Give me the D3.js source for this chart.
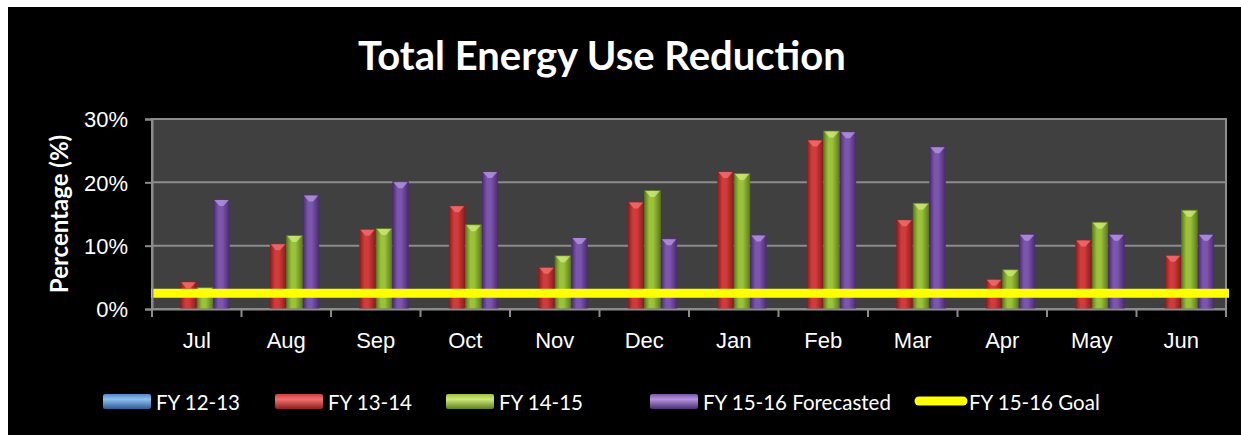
<!DOCTYPE html>
<html>
<head>
<meta charset="utf-8">
<script src="https://cdn.jsdelivr.net/npm/d3@7"></script>
<style>
  body { margin:0; background:#fff; }
  svg { display:block; font-family: Lato, "Open Sans", sans-serif; }
  .axis path, .axis line { stroke:#8c8c8c; }
  .axis text { fill:#fff; }
</style>
</head>
<body>
<div id="chart"></div>
<script>
// data (percent)
var months = ["Jul","Aug","Sep","Oct","Nov","Dec","Jan","Feb","Mar","Apr","May","Jun"];
var seriesNames = ["FY 12-13","FY 13-14","FY 14-15","FY 15-16 Forecasted"];
var fy1213 = [0,0,0,0,0,0,0,0,0,0,0,0];
var fy1314 = [4.3,10.3,12.6,16.3,6.6,16.9,21.7,26.7,14.1,4.7,10.9,8.5];
var fy1415 = [3.4,11.6,12.7,13.3,8.4,18.7,21.4,28.1,16.7,6.2,13.7,15.6];
var fy1516 = [17.3,18.0,20.1,21.7,11.3,11.1,11.7,28.0,25.6,11.8,11.8,11.8];
var goalName = "FY 15-16 Goal";
var goal = [2.5,2.5,2.5,2.5,2.5,2.5,2.5,2.5,2.5,2.5,2.5,2.5];
var yTicks = [0,10,20,30];

var colors = [
  {base:"#4f86c6", light:"#8fc0f0", dark:"#2c5a94"},
  {base:"#d03b3b", light:"#f07070", dark:"#8e1e1e"},
  {base:"#9bc23a", light:"#cde87a", dark:"#5f7f1c"},
  {base:"#7c55ad", light:"#b395dc", dark:"#4b2d72"}
];
var goalColor = "#ffff00";

var outerWidth = 1241, outerHeight = 435;
var margin = {top:119, right:15, bottom:126, left:152},
    width = 1226 - margin.left,
    height = 309 - margin.top;

var svg = d3.select("#chart").append("svg")
    .attr("width", outerWidth)
    .attr("height", outerHeight);

// white border at top/left, black panel
svg.append("rect").attr("x", 8).attr("y", 7)
    .attr("width", outerWidth - 8).attr("height", outerHeight - 7)
    .attr("fill", "#000");

var defs = svg.append("defs");
colors.forEach(function(c, i) {
  var g = defs.append("linearGradient").attr("id", "bar" + i)
      .attr("x1", 0).attr("x2", 1).attr("y1", 0).attr("y2", 0);
  g.append("stop").attr("offset", "0%").attr("stop-color", c.dark);
  g.append("stop").attr("offset", "30%").attr("stop-color", c.base);
  g.append("stop").attr("offset", "55%").attr("stop-color", c.base);
  g.append("stop").attr("offset", "100%").attr("stop-color", c.dark);
  var lg = defs.append("linearGradient").attr("id", "leg" + i)
      .attr("x1", 0).attr("x2", 0).attr("y1", 0).attr("y2", 1);
  lg.append("stop").attr("offset", "0%").attr("stop-color", c.base);
  lg.append("stop").attr("offset", "35%").attr("stop-color", c.light);
  lg.append("stop").attr("offset", "100%").attr("stop-color", c.dark);
});

svg.append("text")
    .attr("x", 602).attr("y", 70)
    .attr("text-anchor", "middle")
    .attr("fill", "#fff")
    .style("font-size", "40px")
    .style("font-weight", "bold")
    .text("Total Energy Use Reduction");

var g = svg.append("g")
    .attr("transform", "translate(" + margin.left + "," + margin.top + ")");

var x0 = d3.scaleBand().domain(months).range([0, width]).paddingInner(0).paddingOuter(0);
var x1 = d3.scaleBand().domain(d3.range(4)).range([0, x0.bandwidth()]).paddingOuter(0.71).paddingInner(0);
var y = d3.scaleLinear().domain([0, 30]).range([height, 0]);

g.append("rect").attr("width", width).attr("height", height)
    .attr("fill", "#404040").attr("stroke", "#8c8c8c").attr("stroke-width", 2);

g.selectAll(".grid").data(yTicks.slice(1)).enter().append("line")
    .attr("x1", 0).attr("x2", width)
    .attr("y1", function(d) { return y(d); }).attr("y2", function(d) { return y(d); })
    .attr("stroke", "#8c8c8c").attr("stroke-width", 2);

var table = months.map(function(m, i) {
  return {month:m, values:[fy1213[i], fy1314[i], fy1415[i], fy1516[i]]};
});

var groups = g.selectAll(".month").data(table).enter().append("g")
    .attr("transform", function(d) { return "translate(" + x0(d.month) + ",0)"; });

var bars = groups.selectAll(".bar")
    .data(function(d) { return d.values.map(function(v, k) { return {k:k, v:v}; }); })
    .enter().filter(function(d) { return d.v > 0; });

bars.append("rect")
    .attr("x", function(d) { return x1(d.k) + 0.5; })
    .attr("y", function(d) { return y(d.v); })
    .attr("width", x1.bandwidth() - 1)
    .attr("height", function(d) { return height - y(d.v); })
    .attr("fill", function(d) { return "url(#bar" + d.k + ")"; })
    .attr("stroke", function(d) { return colors[d.k].dark; })
    .attr("stroke-width", 0.8);

// bevel highlight on top of each bar
bars.append("path")
    .attr("d", function(d) {
      var l = x1(d.k) + 1, r = x1(d.k) + x1.bandwidth() - 1, t = y(d.v) + 0.5;
      var m = (l + r) / 2;
      return "M" + l + "," + t + "L" + r + "," + t + "L" + (m + 2) + "," + (t + 6) + "L" + (m - 2) + "," + (t + 6) + "Z";
    })
    .attr("fill", function(d) { return colors[d.k].light; })
    .attr("opacity", 0.8);

// goal line, spans the plot width
var goalLine = d3.line()
    .x(function(d, i) { return i === 0 ? -1 : (i === goal.length - 1 ? width + 3 : x0(months[i]) + x0.bandwidth() / 2); })
    .y(function(d) { return y(d); });
g.append("path").datum(goal)
    .attr("d", goalLine)
    .attr("fill", "none")
    .attr("stroke", goalColor)
    .attr("stroke-width", 9);

var yAxis = d3.axisLeft(y).tickValues(yTicks).tickSize(7).tickPadding(17)
    .tickFormat(function(d) { return d + "%"; });
var gY = g.append("g").attr("class", "axis").call(yAxis);
gY.selectAll("line, path").attr("stroke-width", 2);
gY.selectAll("text").style("font-size", "22px").attr("dy", "0.36em");

var xAxis = d3.axisBottom(x0).tickSize(0).tickPadding(23);
var gX = g.append("g").attr("class", "axis")
    .attr("transform", "translate(0," + height + ")").call(xAxis);
gX.select(".domain").attr("stroke-width", 2);
gX.selectAll("text").style("font-size", "22px");
// tick marks at category boundaries
gX.selectAll(".bound").data(months.concat(["end"])).enter().append("line")
    .attr("x1", function(d, i) { return i * x0.step(); })
    .attr("x2", function(d, i) { return i * x0.step(); })
    .attr("y1", 0).attr("y2", 8)
    .attr("stroke", "#8c8c8c").attr("stroke-width", 2);

svg.append("text")
    .attr("transform", "translate(68,214) rotate(-90)")
    .attr("text-anchor", "middle")
    .attr("fill", "#fff")
    .style("font-size", "24px")
    .style("font-weight", "bold")
    .text("Percentage (%)");

// legend
var legX = [103, 275, 446, 650];
seriesNames.forEach(function(name, i) {
  var lg = svg.append("g").attr("transform", "translate(" + legX[i] + ",394)");
  lg.append("rect").attr("width", 48).attr("height", 15).attr("rx", 2)
      .attr("fill", "url(#leg" + i + ")");
  lg.append("text").attr("x", 53).attr("y", 16).attr("fill", "#fff")
      .style("font-size", "20.5px").text(name);
});
var gl = svg.append("g").attr("transform", "translate(915,401)");
gl.append("line").attr("x1", 4).attr("x2", 48).attr("stroke", goalColor)
    .attr("stroke-width", 9).attr("stroke-linecap", "round");
gl.append("text").attr("x", 54).attr("y", 9).attr("fill", "#fff")
    .style("font-size", "20.5px").text(goalName);
</script>
</body>
</html>
